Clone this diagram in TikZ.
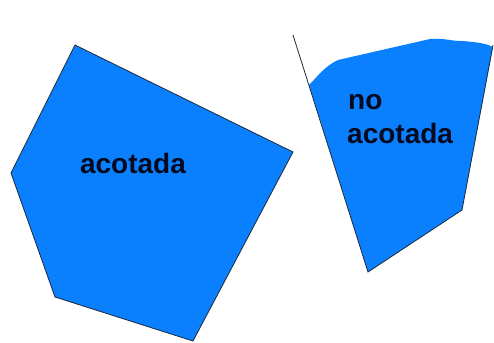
\documentclass[tikz,border=0pt]{standalone}
\usepackage{fontspec}
\setmainfont{Liberation Sans}
\definecolor{polyblue}{RGB}{10,128,255}
\definecolor{edge}{RGB}{30,40,60}
\definecolor{ink}{RGB}{5,10,30}
\begin{document}
\begin{tikzpicture}[x=1pt,y=-1pt,
  region/.style={fill=polyblue},
  border/.style={draw=edge,line width=0.8pt,line join=miter},
  label/.style={font=\bfseries\fontsize{28}{34}\selectfont,text=ink,inner sep=0pt}]
\useasboundingbox (0,0) rectangle (494,342);
% bounded pentagon
\filldraw[region,border] (75,45) -- (293,152) -- (193,341) -- (55,297) -- (11,173) -- cycle;
\node[label,anchor=base] (a) at (133,173) {acotada};
% unbounded region
\fill[region] (309,85) .. controls (318,76) and (325,66) .. (338,60)
  -- (430,39) .. controls (445,38) and (450,41) .. (462,41)
  .. controls (475,42) and (485,43) .. (493,47)
  -- (462,210) -- (368,272) -- cycle;
\coordinate (lt) at (293,35);
\coordinate (bt) at (368,272);
\coordinate (rb) at (462,210);
\coordinate (rt) at (493,45);
\draw[border] (lt) -- (bt) -- (rb) -- (rt);
\node[label,anchor=base west] (n1) at (348,109) {no};
\node[label,anchor=base west] (n2) at (347,143) {acotada};
\end{tikzpicture}
\end{document}
